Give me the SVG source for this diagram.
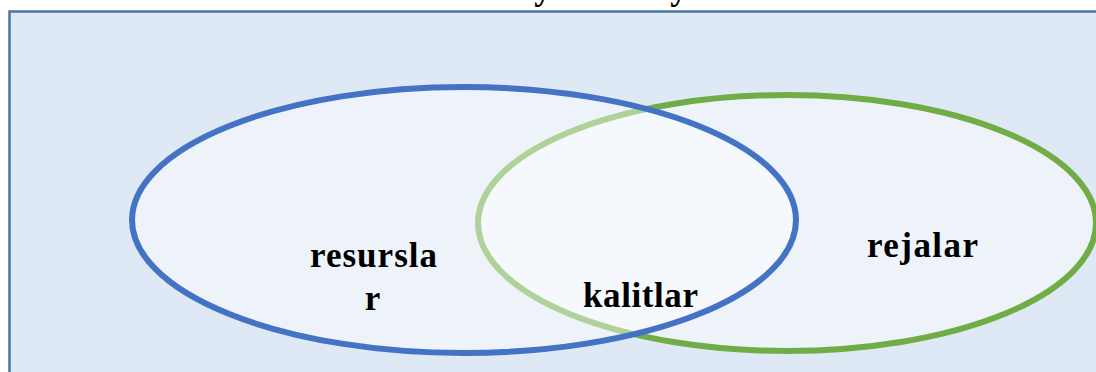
<svg xmlns="http://www.w3.org/2000/svg" width="1096" height="372" viewBox="0 0 1096 372">
<style>
.lbl{font-family:"Liberation Serif","Times New Roman",serif;font-weight:bold;font-size:35px;fill:#000;text-anchor:middle}
.set{fill:#ffffff;fill-opacity:0.45;stroke-width:6}
</style>
<rect width="1096" height="372" fill="#ffffff"/>
<g id="frame">
<rect x="9.5" y="11.5" width="1100" height="380" fill="#dee9f5" stroke="#4a74a3" stroke-width="2.5"/>
</g>
<g id="top-text">
<text class="lbl" x="543" y="-1">y</text>
<text class="lbl" x="679" y="-1">y</text>
</g>
<g id="rejalar">
<ellipse class="set" cx="787" cy="223" rx="309" ry="128" stroke="#70ad47"/>
</g>
<g id="resurslar">
<ellipse class="set" cx="464" cy="220" rx="332" ry="133" stroke="#4472c4"/>
</g>
<g id="labels">
<text class="lbl" x="373.5" y="267" textLength="127">resursla</text>
<text class="lbl" x="372.5" y="310">r</text>
<text class="lbl" x="640.5" y="307" textLength="115">kalitlar</text>
<text class="lbl" x="922.5" y="257" textLength="111">rejalar</text>
</g>
</svg>
